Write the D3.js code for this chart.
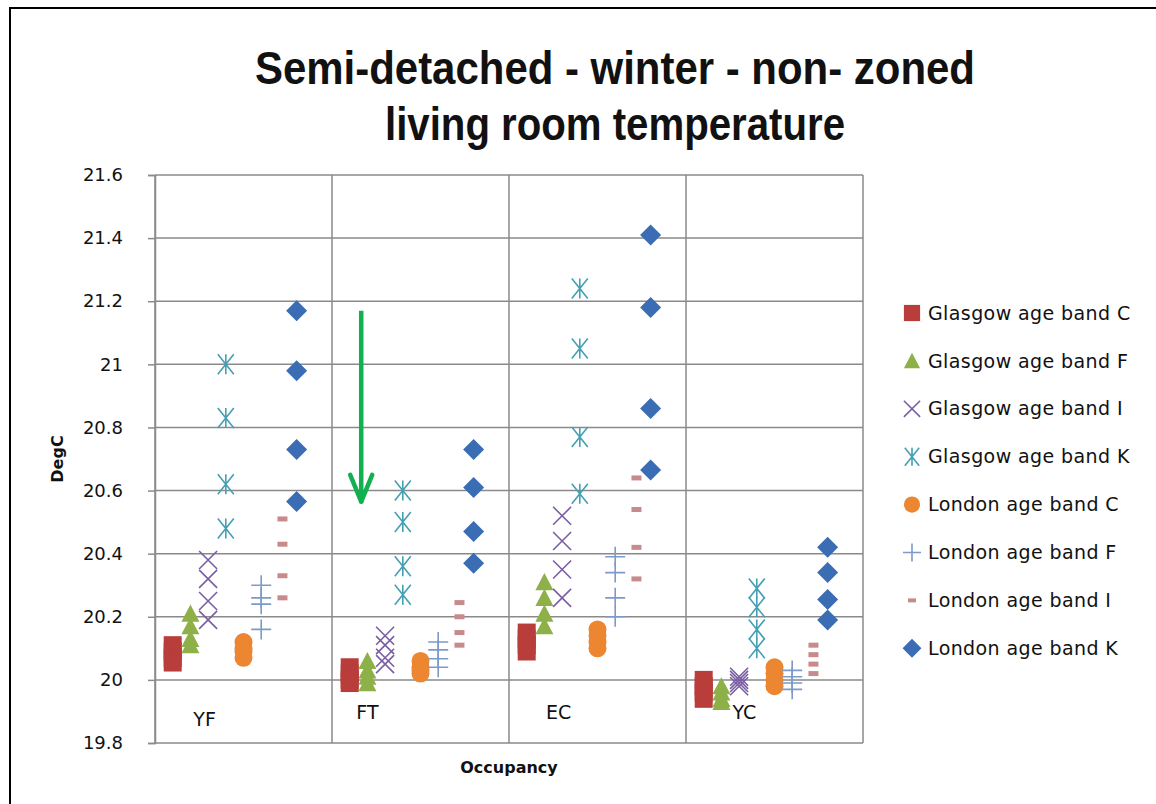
<!DOCTYPE html>
<html>
<head>
<meta charset="utf-8">
<script src="https://cdn.jsdelivr.net/npm/d3@7"></script>
<style>
body { margin: 0; background: #fff; }
text { font-family: "DejaVu Sans", sans-serif; fill: #111; }
</style>
</head>
<body>
<svg id="chart" width="1156" height="804"></svg>
<script>
// occupancy categories along the x axis
const categories = ["YF", "FT", "EC", "YC"];

const seriesNames = [
	"Glasgow age band C", "Glasgow age band F", "Glasgow age band I", "Glasgow age band K",
	"London age band C", "London age band F", "London age band I", "London age band K"
];

// four readings per occupancy, one list per category (YF, FT, EC, YC)
const glasgowC = [[20.11, 20.09, 20.07, 20.055], [20.04, 20.02, 20.00, 19.99], [20.15, 20.13, 20.11, 20.09], [20.00, 19.98, 19.96, 19.94]];
const glasgowF = [[20.21, 20.17, 20.13, 20.11], [20.06, 20.03, 20.01, 19.99], [20.31, 20.26, 20.21, 20.17], [19.98, 19.96, 19.94, 19.93]];
const glasgowI = [[20.38, 20.32, 20.25, 20.19], [20.14, 20.11, 20.07, 20.05], [20.52, 20.44, 20.35, 20.26], [20.01, 20.00, 19.99, 19.98]];
const glasgowK = [[21.00, 20.83, 20.62, 20.48], [20.60, 20.50, 20.36, 20.27], [21.24, 21.05, 20.77, 20.59], [20.29, 20.23, 20.16, 20.10]];
const londonC  = [[20.12, 20.10, 20.09, 20.07], [20.06, 20.04, 20.03, 20.02], [20.16, 20.14, 20.12, 20.10], [20.04, 20.02, 20.00, 19.98]];
const londonF  = [[20.30, 20.26, 20.24, 20.16], [20.12, 20.095, 20.067, 20.04], [20.39, 20.34, 20.26, 20.20], [20.03, 20.01, 19.99, 19.97]];
const londonI  = [[20.51, 20.43, 20.33, 20.26], [20.245, 20.20, 20.15, 20.11], [20.64, 20.54, 20.42, 20.32], [20.11, 20.08, 20.05, 20.02]];
const londonK  = [[21.17, 20.98, 20.73, 20.565], [20.73, 20.61, 20.47, 20.37], [21.41, 21.18, 20.86, 20.665], [20.42, 20.34, 20.255, 20.19]];

const yTicks = [19.8, 20, 20.2, 20.4, 20.6, 20.8, 21, 21.2, 21.4, 21.6];
const yTickLabels = ["19.8", "20", "20.2", "20.4", "20.6", "20.8", "21", "21.2", "21.4", "21.6"];

const allSeries = [glasgowC, glasgowF, glasgowI, glasgowK, londonC, londonF, londonI, londonK];
const colors = ["#b83d3b", "#8db049", "#7a5ea3", "#44a0b2", "#ec8631", "#7d9bc8", "#c98a8c", "#3a6db3"];

const svg = d3.select("#chart");

// outer chart frame
svg.append("rect")
	.attr("x", 10).attr("y", 8)
	.attr("width", 1170).attr("height", 830)
	.attr("fill", "none").attr("stroke", "#000").attr("stroke-width", 2);

const x = d3.scaleLinear().domain([0, categories.length]).range([155, 863]);
const y = d3.scaleLinear().domain([19.8, 21.6]).range([743, 175]);

// title (condensed bold, squeezed to the original width)
const titleLines = [["Semi-detached - winter - non- zoned", 84, 720], ["living room temperature", 140, 460]];
svg.append("g").selectAll("text")
	.data(titleLines)
	.join("text")
	.attr("x", 615).attr("y", d => d[1])
	.attr("text-anchor", "middle")
	.attr("textLength", d => d[2]).attr("lengthAdjust", "spacingAndGlyphs")
	.style("font-family", "'Liberation Sans Narrow', 'Liberation Sans', sans-serif")
	.style("font-weight", "bold").style("font-size", "46px")
	.text(d => d[0]);

// horizontal gridlines
svg.append("g").selectAll("line")
	.data(yTicks)
	.join("line")
	.attr("x1", x(0)).attr("x2", x(categories.length))
	.attr("y1", d => y(d)).attr("y2", d => y(d))
	.attr("stroke", "#8a8a8a").attr("stroke-width", 1.5);

// vertical lines between occupancies
svg.append("g").selectAll("line")
	.data(d3.range(categories.length + 1))
	.join("line")
	.attr("x1", d => x(d)).attr("x2", d => x(d))
	.attr("y1", y(21.6)).attr("y2", y(19.8))
	.attr("stroke", "#8a8a8a").attr("stroke-width", 1.5);

// y axis
const yAxis = svg.append("g")
	.attr("transform", `translate(${x(0)},0)`)
	.call(d3.axisLeft(y).tickValues(yTicks).tickSize(7).tickPadding(25)
		.tickFormat((d, i) => yTickLabels[i]));
yAxis.select(".domain").attr("stroke", "#8a8a8a").attr("stroke-width", 1.5);
yAxis.selectAll(".tick line").attr("stroke", "#8a8a8a").attr("stroke-width", 1.5);
yAxis.selectAll(".tick text")
	.style("font-family", "'DejaVu Sans', sans-serif")
	.style("font-size", "18px").attr("fill", "#222");

svg.append("text")
	.attr("transform", `translate(63,${(y(21.6) + y(19.8)) / 2}) rotate(-90)`)
	.attr("text-anchor", "middle")
	.style("font-weight", "bold").style("font-size", "16px")
	.text("DegC");

svg.append("text")
	.attr("x", (x(0) + x(categories.length)) / 2).attr("y", 773)
	.attr("text-anchor", "middle")
	.style("font-weight", "bold").style("font-size", "16px")
	.text("Occupancy");

// marker shapes, size = half width
const shapes = [
	{draw(c, r){ c.rect(-r, -r, 2 * r, 2 * r); }},
	{draw(c, r){ c.moveTo(0, -r); c.lineTo(r, r * 0.9); c.lineTo(-r, r * 0.9); c.closePath(); }},
	{draw(c, r){ c.moveTo(-r, -r); c.lineTo(r, r); c.moveTo(-r, r); c.lineTo(r, -r); }},
	{draw(c, r){ c.moveTo(-r * 0.8, -r); c.lineTo(r * 0.8, r); c.moveTo(-r * 0.8, r); c.lineTo(r * 0.8, -r); c.moveTo(0, -r); c.lineTo(0, r); }},
	{draw(c, r){ c.moveTo(r, 0); c.arc(0, 0, r, 0, 2 * Math.PI); }},
	{draw(c, r){ c.moveTo(-r, 0); c.lineTo(r, 0); c.moveTo(0, -r); c.lineTo(0, r); }},
	{draw(c, r){ c.rect(-r, -r * 0.5, 2 * r, r); }},
	{draw(c, r){ c.moveTo(0, -r); c.lineTo(r, 0); c.lineTo(0, r); c.lineTo(-r, 0); c.closePath(); }}
];
const sizes = [9, 9, 9, 10, 9, 10, 5, 10.5];
const filled = [true, true, false, false, true, false, true, true];
// x position of each series inside an occupancy band
const slot = [0.1, 0.2, 0.3, 0.4, 0.5, 0.6, 0.72, 0.8];

function markerPath(i, scale){
	return d3.symbol().type(shapes[i]).size(sizes[i] * (scale || 1))();
}

function styleMarker(sel, i){
	if (filled[i]) sel.attr("fill", colors[i]).attr("stroke", "none");
	else sel.attr("fill", "none").attr("stroke", colors[i]).attr("stroke-width", 1.6);
}

allSeries.forEach((series, i) => {
	const pts = [];
	series.forEach((vals, c) => vals.forEach(v => pts.push({c: c, v: v})));
	const g = svg.append("g").attr("class", "series");
	g.selectAll("path")
		.data(pts)
		.join("path")
		.attr("d", markerPath(i))
		.attr("transform", d => `translate(${x(d.c + slot[i])},${y(d.v)})`)
		.call(styleMarker, i);
});

// occupancy labels written inside the plot
const labelPos = [[0.28, 19.855], [1.2, 19.876], [2.28, 19.876], [3.33, 19.876]];
svg.append("g").selectAll("text")
	.data(categories)
	.join("text")
	.attr("x", (d, i) => x(labelPos[i][0]))
	.attr("y", (d, i) => y(labelPos[i][1]))
	.attr("text-anchor", "middle")
	.style("font-size", "19px")
	.text(d => d);

// green arrow annotation
const arrowX = x(1 + 0.165);
svg.append("line")
	.attr("x1", arrowX).attr("x2", arrowX)
	.attr("y1", y(21.17)).attr("y2", y(20.56))
	.attr("stroke", "#12b04f").attr("stroke-width", 4.5);
svg.append("path")
	.attr("d", `M${arrowX - 11},${y(20.65)} L${arrowX},${y(20.565)} L${arrowX + 11},${y(20.65)}`)
	.attr("fill", "none").attr("stroke", "#12b04f").attr("stroke-width", 4.5)
	.attr("stroke-linecap", "round").attr("stroke-linejoin", "round");

// legend
const legend = svg.append("g").attr("transform", "translate(912,313)");
const rows = legend.selectAll("g")
	.data(seriesNames)
	.join("g")
	.attr("transform", (d, i) => `translate(0,${i * 47.9})`);
rows.append("path")
	.attr("d", (d, i) => markerPath(i, i === 6 ? 0.8 : 0.9))
	.each(function(d, i){ styleMarker(d3.select(this), i); });
rows.append("text")
	.attr("x", 16).attr("dy", "0.35em")
	.style("font-size", "19px").style("letter-spacing", "0.4px")
	.text(d => d);
</script>
</body>
</html>
